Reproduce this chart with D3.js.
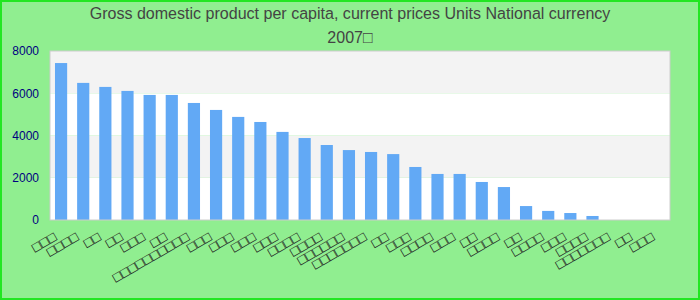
<!DOCTYPE html>
<html>
<head>
<meta charset="utf-8">
<script src="https://cdn.jsdelivr.net/npm/d3@7"></script>
<style>
	body { margin: 0; }
	svg { display: block; }
</style>
</head>
<body>
<div id="chart"></div>
<script>
// chart text and values
var titleLines = ["Gross domestic product per capita, current prices Units National currency", "2007\u25A1"];

// the category names came out as empty boxes in the reference, so they are kept as boxes
var labelLengths = [3, 4, 2, 2, 3, 2, 10, 3, 3, 3, 3, 4, 4, 6, 7, 2, 3, 4, 3, 2, 4, 2, 4, 3, 4, 7, 2, 3];
var categories = labelLengths.map(function(n, i) { return i + ":" + "\u25A1".repeat(n); });

var values = [7430, 6490, 6300, 6110, 5920, 5920, 5540, 5210, 4880, 4640, 4170, 3880, 3550, 3310,
	3220, 3120, 2510, 2180, 2180, 1800, 1560, 660, 430, 330, 190, 0, 0, 0];

var yTicks = [0, 2000, 4000, 6000, 8000];

var w = 700, h = 300;
var margin = {top: 51, right: 30, bottom: 80, left: 50};
var width = w - margin.left - margin.right;
var height = h - margin.top - margin.bottom;

var svg = d3.select("#chart").append("svg")
	.attr("width", w)
	.attr("height", h);

// page background with the green frame
svg.append("rect")
	.attr("x", 1)
	.attr("y", 1)
	.attr("width", w - 2)
	.attr("height", h - 2)
	.attr("fill", "#90ee90")
	.attr("stroke", "#22e622")
	.attr("stroke-width", 2);

// title, squeezed a little to the narrow face of the reference
svg.append("g")
	.attr("class", "title")
	.attr("transform", "translate(" + (w / 2) + ",0) scale(0.945,1)")
	.selectAll("text")
	.data(titleLines)
	.enter().append("text")
		.attr("x", 0)
		.attr("y", function(d, i) { return 19 + i * 24; })
		.style("text-anchor", "middle")
		.style("font-family", "'Liberation Sans', Arial, sans-serif")
		.style("font-size", "17px")
		.style("fill", "#444")
		.text(function(d) { return d; });

var g = svg.append("g")
	.attr("transform", "translate(" + margin.left + "," + margin.top + ")");

var xS = d3.scaleBand()
	.domain(categories)
	.range([0, width])
	.paddingInner(0.45)
	.paddingOuter(0.225);

var yS = d3.scaleLinear()
	.domain([0, 8000])
	.range([height, 0]);

// alternating split areas
g.append("g")
	.selectAll("rect")
	.data(d3.pairs(yTicks))
	.enter().append("rect")
		.attr("x", 0)
		.attr("width", width)
		.attr("y", function(d) { return yS(d[1]); })
		.attr("height", function(d) { return yS(d[0]) - yS(d[1]); })
		.attr("fill", function(d, i) { return i % 2 ? "#f3f3f3" : "#ffffff"; });

g.append("g")
	.selectAll("rect")
	.data(values)
	.enter().append("rect")
		.attr("x", function(d, i) { return xS(categories[i]); })
		.attr("width", xS.bandwidth())
		.attr("y", function(d) { return yS(d); })
		.attr("height", function(d) { return height - yS(d); })
		.attr("fill", "#62a9f5");

g.append("rect")
	.attr("x", 0)
	.attr("y", 0)
	.attr("width", width)
	.attr("height", height)
	.attr("fill", "none")
	.attr("stroke", "#cccccc");

var yAxis = d3.axisLeft(yS)
	.tickValues(yTicks)
	.tickSize(0)
	.tickPadding(11)
	.tickFormat(d3.format("d"));

var axisY = g.append("g")
	.attr("class", "axisY")
	.call(yAxis);
axisY.select(".domain").remove();
axisY.selectAll("text")
	.style("font-family", "'Liberation Sans', Arial, sans-serif")
	.style("font-size", "12px")
	.style("fill", "#000080");

var xAxis = d3.axisBottom(xS)
	.tickSize(0)
	.tickFormat(function(d) { return d.split(":")[1]; });

var axisX = g.append("g")
	.attr("class", "axisX")
	.attr("transform", "translate(0," + height + ")")
	.call(xAxis);
axisX.select(".domain").remove();
axisX.selectAll("text")
	.attr("y", 0)
	.attr("dy", 0)
	.attr("transform", "translate(-5,19) rotate(-30)")
	.style("text-anchor", "end")
	.style("font-family", "'DejaVu Sans', sans-serif")
	.style("font-size", "11px")
	.style("letter-spacing", "-1.8px")
	.style("fill", "#222");
</script>
</body>
</html>
